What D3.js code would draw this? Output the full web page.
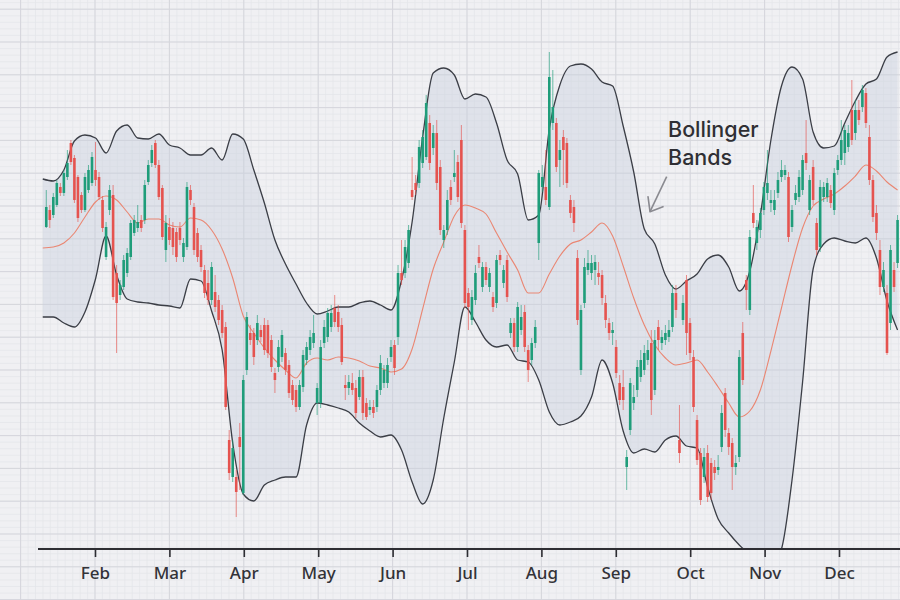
<!DOCTYPE html>
<html><head><meta charset="utf-8">
<script src="https://cdn.jsdelivr.net/npm/d3@7"></script>
<style>html,body{margin:0;padding:0;background:#f0f0f3;} svg{display:block}</style>
</head><body><svg id="chart" width="900" height="600"></svg>
<script>
// ---------- DATA ----------
const monthLabels = ["Feb","Mar","Apr","May","Jun","Jul","Aug","Sep","Oct","Nov","Dec"];
const firstSession = 0.345;      // first candle, in months since Jan 1
const sessionsPerMonth = 21.15;  // trading sessions per month

const opens = [
37.3,39.0,38.5,39.5,41.3,40.7,42.3,45.7,44.2,42.3,
40.5,39.0,41.0,41.7,43.0,42.3,40.0,34.3,39.0,40.5,
32.7,30.5,31.3,32.7,34.3,36.7,37.2,38.0,38.0,41.8,
43.7,45.7,43.5,41.2,35.0,37.3,37.2,36.8,37.2,34.3,
35.3,41.0,39.3,36.7,35.0,33.0,31.7,30.0,30.8,30.0,
29.0,27.3,16.0,12.3,12.3,16.3,10.7,23.0,26.7,26.7,
26.0,27.0,27.5,27.5,26.0,22.7,23.3,24.3,24.7,23.5,
21.5,21.0,19.3,21.3,24.0,25.0,25.7,19.7,19.7,25.7,
26.3,27.3,29.2,28.8,27.5,21.5,21.2,21.7,21.2,20.3,
22.3,19.7,19.0,19.3,19.3,21.0,21.7,21.7,24.3,25.5,
26.3,32.7,32.7,33.7,41.0,41.7,41.7,43.7,44.3,47.7,
45.2,46.7,43.3,36.0,37.0,41.3,42.3,43.8,46.0,37.0,
30.7,28.0,30.0,34.3,31.3,33.3,31.3,30.3,29.7,34.5,
31.7,34.0,26.7,27.7,25.3,27.0,28.8,25.0,24.0,25.7,
35.7,41.3,41.3,39.3,47.7,47.7,44.0,46.3,45.7,40.0,
39.3,34.2,23.0,29.7,33.0,32.7,33.0,32.7,32.5,29.7,
27.7,26.7,25.3,21.7,21.3,13.3,17.0,19.7,21.0,22.3,
23.0,24.0,25.7,21.0,27.3,25.7,26.0,26.3,27.3,30.7,
16.0,28.0,32.0,27.7,24.3,18.0,14.7,12.3,14.7,13.7,
13.3,13.0,15.3,20.7,16.7,15.7,13.3,14.3,26.7,32.0,
29.0,38.7,35.7,37.0,39.0,40.7,39.7,39.0,40.7,42.3,
42.5,42.3,37.3,40.0,40.3,41.0,44.7,39.0,43.3,37.7,
35.3,40.3,40.3,41.0,39.0,43.0,44.0,44.7,45.3,49.0,
46.7,49.0,49.3,50.7,46.3,42.0,38.7,35.0,31.3,30.7,
27.7,33.0,33.7];
const closes = [
39.3,38.0,40.3,41.7,40.7,42.7,43.7,43.8,40.0,38.2,
39.0,42.3,43.0,44.3,42.0,40.3,37.2,37.3,41.0,30.3,
29.7,31.5,34.0,34.7,37.7,38.0,37.8,37.2,41.5,43.5,
45.0,43.5,40.3,36.3,37.7,36.0,35.3,34.3,36.0,35.7,
41.3,40.0,35.0,34.3,33.3,30.7,30.0,33.3,29.3,28.0,
26.7,19.3,12.7,15.2,10.8,15.3,22.0,28.3,26.0,24.3,
27.7,26.3,25.0,24.7,23.3,22.0,25.3,26.5,23.0,20.7,
20.0,19.3,21.5,24.5,25.3,26.3,26.7,21.2,25.3,27.3,
28.7,28.7,27.8,27.3,23.8,21.2,21.8,21.0,18.7,22.3,
18.7,18.3,19.3,18.7,21.0,23.7,23.0,23.5,25.3,23.2,
32.7,32.0,35.3,37.0,40.3,41.0,45.3,46.3,49.7,43.7,
46.7,41.7,37.0,37.0,40.0,40.0,42.7,40.3,37.7,29.7,
29.3,30.3,32.7,33.7,33.3,32.0,32.7,29.3,34.0,34.0,
33.0,30.3,27.7,25.3,29.3,28.3,25.3,23.0,25.7,27.3,
42.7,42.3,40.0,52.3,49.3,43.3,45.0,45.0,41.7,38.7,
37.7,28.0,29.0,33.3,33.7,33.7,33.8,32.3,30.2,28.0,
26.7,27.0,22.7,20.0,20.0,14.3,21.7,20.3,23.3,24.0,
24.7,25.0,20.0,26.0,26.0,26.3,26.7,27.0,30.7,29.0,
14.7,29.7,26.7,24.7,19.3,14.0,10.0,14.3,10.3,10.7,
12.7,13.3,18.7,17.0,15.3,13.3,13.7,24.3,22.0,31.0,
36.3,37.7,37.3,38.7,41.3,41.7,40.0,40.0,42.0,43.0,
43.0,36.3,39.0,40.7,42.3,44.0,43.7,42.0,40.0,35.0,
41.3,41.3,41.7,39.7,42.7,44.0,46.0,47.0,46.7,46.0,
49.0,48.0,51.0,47.7,42.0,38.3,36.7,31.3,33.0,24.7,
35.0,31.3,38.0];
const highs = [
41.0,39.5,40.7,42.0,41.7,43.0,45.0,46.0,44.5,42.5,
40.8,42.7,43.5,44.8,45.8,42.8,40.4,37.8,41.5,41.5,
33.5,32.0,34.5,35.2,38.0,38.5,39.5,38.5,42.0,44.0,
45.5,46.0,44.0,41.5,38.5,38.2,37.8,37.2,37.8,36.2,
41.8,41.5,39.7,37.2,35.5,33.5,33.0,33.8,32.5,30.5,
29.5,27.8,17.0,16.0,13.0,17.7,22.5,28.8,27.5,27.2,
28.5,27.5,28.2,28.0,26.5,23.2,26.0,27.0,25.2,24.0,
22.0,21.5,22.0,25.0,25.8,27.0,28.5,21.7,26.0,28.0,
29.2,29.5,30.5,29.5,28.2,22.5,22.5,22.7,22.0,23.0,
23.0,20.2,20.0,20.0,21.5,24.5,23.5,24.2,26.0,26.0,
33.5,36.0,36.0,37.5,44.3,42.5,46.0,47.0,50.5,48.5,
47.5,48.0,44.0,37.5,41.0,42.0,45.0,44.5,47.5,37.5,
31.2,31.0,33.5,35.5,33.8,33.8,33.2,30.8,34.5,35.0,
33.5,34.5,28.2,28.2,29.8,29.5,29.5,25.5,26.2,28.0,
43.0,43.5,45.0,54.8,53.0,48.2,46.0,47.0,46.2,40.5,
40.0,35.0,29.5,34.2,35.0,34.5,34.5,33.8,33.0,30.5,
28.2,27.8,26.0,22.5,23.0,15.0,22.2,21.5,24.0,25.0,
25.5,26.0,27.0,27.0,28.0,27.0,27.5,28.0,31.5,31.5,
19.5,30.5,32.5,28.2,25.0,18.5,15.2,15.2,15.5,14.2,
14.0,14.5,19.5,21.2,17.2,16.2,14.5,25.0,27.8,32.5,
37.0,41.5,38.0,39.2,41.8,45.0,41.0,41.0,42.8,44.0,
43.5,42.8,39.5,41.5,43.0,44.5,48.0,42.5,44.0,38.2,
42.0,41.8,42.2,41.5,43.2,44.5,48.0,47.5,47.5,52.0,
50.0,50.0,51.5,51.2,47.5,42.5,39.5,36.0,33.8,31.5,
35.5,33.8,38.5];
const lows = [
37.2,37.2,38.2,39.3,40.4,40.4,42.0,43.5,39.7,37.8,
38.7,38.8,40.7,41.4,41.4,40.0,36.8,34.0,38.5,30.0,
24.7,30.0,31.0,32.3,34.0,36.4,36.8,36.8,37.6,41.5,
43.3,43.2,40.0,36.0,33.8,35.5,34.5,33.8,35.5,33.8,
35.0,39.5,34.5,33.8,32.8,30.2,29.5,29.5,28.8,27.5,
26.2,19.0,12.0,11.8,8.3,11.0,10.5,22.5,25.5,23.5,
25.5,25.8,24.5,24.2,22.8,20.7,22.8,23.8,22.5,20.2,
19.5,18.8,19.0,20.8,23.5,24.5,25.2,18.5,19.2,25.2,
25.8,26.8,27.3,26.8,23.5,20.0,20.5,20.5,18.2,20.0,
18.0,18.0,18.5,18.2,18.8,20.5,21.2,21.2,23.8,22.5,
25.5,31.5,32.2,33.2,40.0,40.5,41.2,43.2,44.0,43.0,
44.5,41.0,36.5,35.2,36.5,39.5,41.8,39.8,37.2,29.2,
27.0,27.5,29.5,33.2,30.8,31.5,30.8,28.8,29.2,33.5,
31.2,29.8,26.2,24.8,24.8,26.5,24.8,21.8,23.5,25.2,
34.0,40.8,39.5,39.0,47.0,42.8,41.3,41.5,41.2,38.2,
36.8,27.5,22.5,29.2,32.5,32.0,31.5,31.5,29.5,27.2,
26.0,25.5,22.2,19.5,19.0,11.0,16.5,19.0,20.3,21.8,
22.5,23.5,18.5,20.5,25.0,25.0,25.5,25.8,26.8,28.2,
13.7,27.5,24.5,24.0,18.8,13.5,9.5,11.7,9.8,10.0,
12.0,12.5,14.8,16.3,14.5,11.0,12.5,13.8,21.5,29.0,
28.5,37.2,35.0,36.2,38.5,40.0,38.8,38.5,40.2,41.8,
42.0,35.8,36.8,39.5,39.8,40.5,43.0,38.5,39.5,34.5,
34.8,39.8,39.8,39.2,38.5,42.5,43.5,43.5,44.8,45.5,
46.0,47.5,48.8,47.2,41.5,37.8,36.0,30.5,30.8,24.5,
27.0,30.8,33.2];

// Bollinger band readings, one every 3 sessions starting one session before the first candle
const bandStartSession = -1;
const bandStepSessions = 3;
const upperBand = [
42.1,41.9,43.0,45.9,46.5,46.2,44.7,46.9,47.5,46.2,
46.1,46.6,45.5,45.2,44.5,44.5,45.2,44.0,46.6,46.1,
43.0,39.7,36.0,33.6,31.6,29.7,28.6,28.9,29.3,29.3,
29.7,29.9,29.5,29.0,32.0,37.8,46.3,52.7,53.2,52.5,
50.1,50.6,50.3,47.7,44.0,42.6,38.0,38.5,47.1,51.5,
53.4,53.6,53.1,51.8,51.4,47.4,42.8,37.1,35.6,32.5,
31.1,31.9,32.6,34.1,34.5,33.3,30.9,32.9,38.5,46.0,
51.4,53.3,52.1,46.8,45.2,45.4,47.7,49.9,51.6,52.1,
54.3,54.8];
const middleBand = [
35.2,35.3,35.7,36.7,38.3,39.8,40.4,40.0,38.8,37.7,
38.1,38.1,37.5,37.3,38.2,38.0,37.0,35.1,32.2,28.4,
26.7,25.2,24.0,23.0,22.2,23.7,24.2,24.0,24.3,24.2,
23.9,23.4,23.2,22.8,23.1,25.1,29.1,33.1,35.8,38.4,
39.5,39.2,38.6,36.7,34.8,33.0,30.7,30.7,32.6,34.4,
35.6,36.0,36.8,37.7,36.4,33.4,30.2,27.5,25.5,24.2,
23.5,23.7,24.0,22.8,21.3,19.7,18.3,18.9,21.0,24.9,
29.2,33.5,37.2,39.4,40.1,40.6,41.4,42.4,43.5,42.9,
41.8,41.0];
const lowerBand = [
28.3,28.3,27.7,27.3,28.8,32.1,36.4,32.5,30.1,29.8,
29.7,29.5,29.4,29.2,32.1,31.9,28.9,25.0,15.7,10.6,
9.9,11.5,12.0,12.3,12.3,17.5,19.7,19.5,19.2,18.8,
17.7,16.9,16.3,16.5,15.0,11.8,9.6,12.0,18.2,23.8,
29.3,27.8,26.0,25.3,25.5,24.0,23.8,22.0,18.8,17.5,
17.8,18.4,20.3,24.0,21.7,16.9,14.7,15.1,14.8,16.0,
16.4,15.4,15.2,11.3,8.1,6.7,5.5,4.5,3.2,3.4,
5.1,12.0,21.8,33.1,35.6,36.2,35.9,35.7,36.2,34.2,
29.9,27.0];

const annotationLines = ["Bollinger", "Bands"];
const annotationAt = {month: 8.702, price: 46.27, lineStep: 2.8};
const arrowFrom = {month: 8.684, price: 42.33};
const arrowTo = {month: 8.460, price: 38.83};
const arrowHeadA = {month: 8.634, price: 39.33};
const arrowHeadB = {month: 8.433, price: 40.33};

// ---------- LAYOUT ----------
const W = 900, H = 600;
const axisY = 549;
const monthWidth = 74.4;
const x = d3.scaleLinear().domain([0, 12]).range([20.6, 20.6 + monthWidth * 12]);
const y = d3.scaleLinear().domain([0, 60]).range([600, 0]);

const svg = d3.select("#chart");
svg.append("rect").attr("width", W).attr("height", H).attr("fill", "#f0f0f3");

// grid
const grid = svg.append("g");
const fineV = d3.range(0, 12.01, 0.1).map(m => x(m)).filter(v => v >= 0 && v <= W);
const fineH = d3.range(2.64, H, 6.56);
grid.selectAll("line.fv").data(fineV).join("line")
  .attr("x1", d => d).attr("x2", d => d).attr("y1", 0).attr("y2", H)
  .attr("stroke", "#e4e5ea").attr("stroke-width", 0.7);
grid.selectAll("line.fh").data(fineH).join("line")
  .attr("x1", 0).attr("x2", W).attr("y1", d => d).attr("y2", d => d)
  .attr("stroke", "#e4e5ea").attr("stroke-width", 0.7);
const majV = d3.range(0, 13).map(m => x(m)).filter(v => v <= W);
const majH = d3.range(9.2, H, 32.8);
grid.selectAll("line.mv").data(majV).join("line")
  .attr("x1", d => d).attr("x2", d => d).attr("y1", 0).attr("y2", H)
  .attr("stroke", "#d5d6dc").attr("stroke-width", 1);
grid.selectAll("line.mh").data(majH).join("line")
  .attr("x1", 0).attr("x2", W).attr("y1", d => d).attr("y2", d => d)
  .attr("stroke", "#d5d6dc").attr("stroke-width", 1);

// clip to plot
svg.append("clipPath").attr("id", "plot").append("rect")
  .attr("x", 0).attr("y", 0).attr("width", W).attr("height", axisY);
const plot = svg.append("g").attr("clip-path", "url(#plot)");

const sessionToMonth = s => firstSession + s / sessionsPerMonth;
const bands = upperBand.map((u, j) => ({
  t: sessionToMonth(bandStartSession + j * bandStepSessions),
  u, m: middleBand[j], l: lowerBand[j]
}));

const curve = d3.curveMonotoneX;
plot.append("path").datum(bands)
  .attr("d", d3.area().x(d => x(d.t)).y0(d => y(d.l)).y1(d => y(d.u)).curve(curve))
  .attr("fill", "#c8cfdd").attr("fill-opacity", 0.42);
plot.append("path").datum(bands)
  .attr("d", d3.line().x(d => x(d.t)).y(d => y(d.u)).curve(curve))
  .attr("fill", "none").attr("stroke", "#3b3e46").attr("stroke-width", 1.3);
plot.append("path").datum(bands)
  .attr("d", d3.line().x(d => x(d.t)).y(d => y(d.l)).curve(curve))
  .attr("fill", "none").attr("stroke", "#3b3e46").attr("stroke-width", 1.3);
plot.append("path").datum(bands)
  .attr("d", d3.line().x(d => x(d.t)).y(d => y(d.m)).curve(curve))
  .attr("fill", "none").attr("stroke", "#ea8672").attr("stroke-width", 1.1);

// candles
const candles = opens.map((o, i) => ({
  t: sessionToMonth(i), o, c: closes[i], h: highs[i], l: lows[i]
}));
const up = "#1f9d7a", down = "#e5534f";
plot.selectAll("line.wick").data(candles).join("line")
  .attr("x1", d => x(d.t)).attr("x2", d => x(d.t))
  .attr("y1", d => y(d.h)).attr("y2", d => y(d.l))
  .attr("stroke", d => d.c >= d.o ? up : down).attr("stroke-opacity", 0.65).attr("stroke-width", 1);
plot.selectAll("rect.body").data(candles).join("rect")
  .attr("x", d => x(d.t) - 1.3).attr("width", 2.6)
  .attr("y", d => y(Math.max(d.o, d.c)))
  .attr("height", d => Math.max(1.2, Math.abs(y(d.o) - y(d.c))))
  .attr("fill", d => d.c >= d.o ? up : down);

// axis
const axis = d3.axisBottom(x).tickValues(d3.range(1, 12))
  .tickFormat(m => monthLabels[m - 1]).tickSize(8).tickSizeOuter(0);
const ax = svg.append("g").attr("transform", `translate(0,${axisY})`).call(axis);
ax.select(".domain").remove();
ax.selectAll(".tick line").attr("stroke", "#2e2e33").attr("stroke-width", 1.6);
ax.selectAll(".tick text").attr("y", 30).attr("dy", 0)
  .attr("fill", "#333338").style("font-family", "'Noto Sans', sans-serif")
  .style("font-size", "17px").style("font-weight", 500);
svg.append("line").attr("x1", 38).attr("x2", W).attr("y1", axisY).attr("y2", axisY)
  .attr("stroke", "#2e2e33").attr("stroke-width", 2);

// annotation
const ann = svg.append("g");
ann.selectAll("text").data(annotationLines).join("text")
  .attr("x", x(annotationAt.month))
  .attr("y", (d, i) => y(annotationAt.price - i * annotationAt.lineStep))
  .text(d => d)
  .attr("fill", "#2f2f34").style("font-family", "Inter, 'Noto Sans', sans-serif")
  .style("font-size", "21.5px").style("font-weight", 500);
ann.append("line")
  .attr("x1", x(arrowFrom.month)).attr("y1", y(arrowFrom.price))
  .attr("x2", x(arrowTo.month)).attr("y2", y(arrowTo.price))
  .attr("stroke", "#8a8a90").attr("stroke-width", 1.6);
ann.append("polyline")
  .attr("points", [arrowHeadA, arrowTo, arrowHeadB].map(p => `${x(p.month)},${y(p.price)}`).join(" "))
  .attr("fill", "none").attr("stroke", "#8a8a90").attr("stroke-width", 1.6)
  .attr("stroke-linecap", "round").attr("stroke-linejoin", "round");
</script>
</body></html>
